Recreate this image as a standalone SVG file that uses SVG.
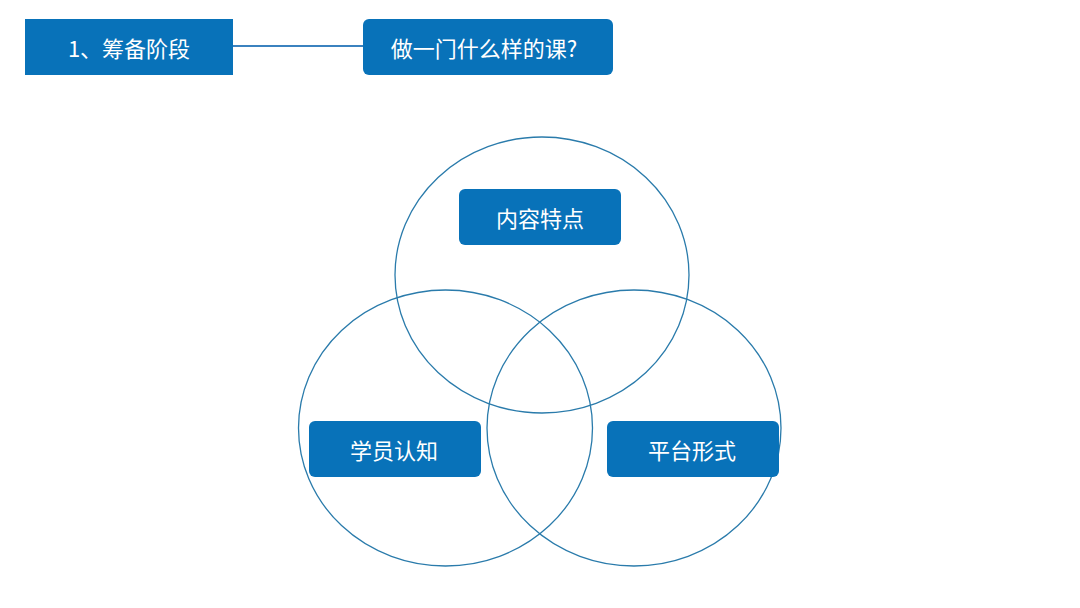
<svg xmlns="http://www.w3.org/2000/svg" width="1080" height="608" viewBox="0 0 1080 608">
<style>
.box{fill:#0872b9}
.t{fill:#fff;font-family:"Noto Sans CJK SC","Noto Sans",sans-serif;font-size:22px;font-weight:normal;text-anchor:middle;dominant-baseline:central}
.c{fill:none;stroke:#2a7bab;stroke-width:1.3}
</style>
<rect width="1080" height="608" fill="#fff"/>
<g id="connectors">
<line x1="233" y1="46" x2="364" y2="46" stroke="#3b82bf" stroke-width="2"/>
</g>
<g id="circles">
<ellipse class="c" cx="542" cy="275" rx="147" ry="138"/>
<ellipse class="c" cx="445.5" cy="428" rx="147" ry="138"/>
<ellipse class="c" cx="634" cy="428" rx="147" ry="138"/>
</g>
<g id="stage">
<rect class="box" x="25" y="19" width="208" height="56"/>
<text class="t" x="129" y="47">1、筹备阶段</text>
</g>
<g id="question">
<rect class="box" x="363" y="19" width="250" height="56" rx="6"/>
<text class="t" x="484" y="47">做一门什么样的课?</text>
</g>
<g id="content">
<rect class="box" x="459" y="189" width="162" height="56" rx="6"/>
<text class="t" x="540" y="217">内容特点</text>
</g>
<g id="learner">
<rect class="box" x="309" y="421" width="172" height="56" rx="6"/>
<text class="t" x="394" y="449">学员认知</text>
</g>
<g id="platform">
<rect class="box" x="607" y="421" width="172" height="56" rx="6"/>
<text class="t" x="692" y="449">平台形式</text>
</g>
</svg>
